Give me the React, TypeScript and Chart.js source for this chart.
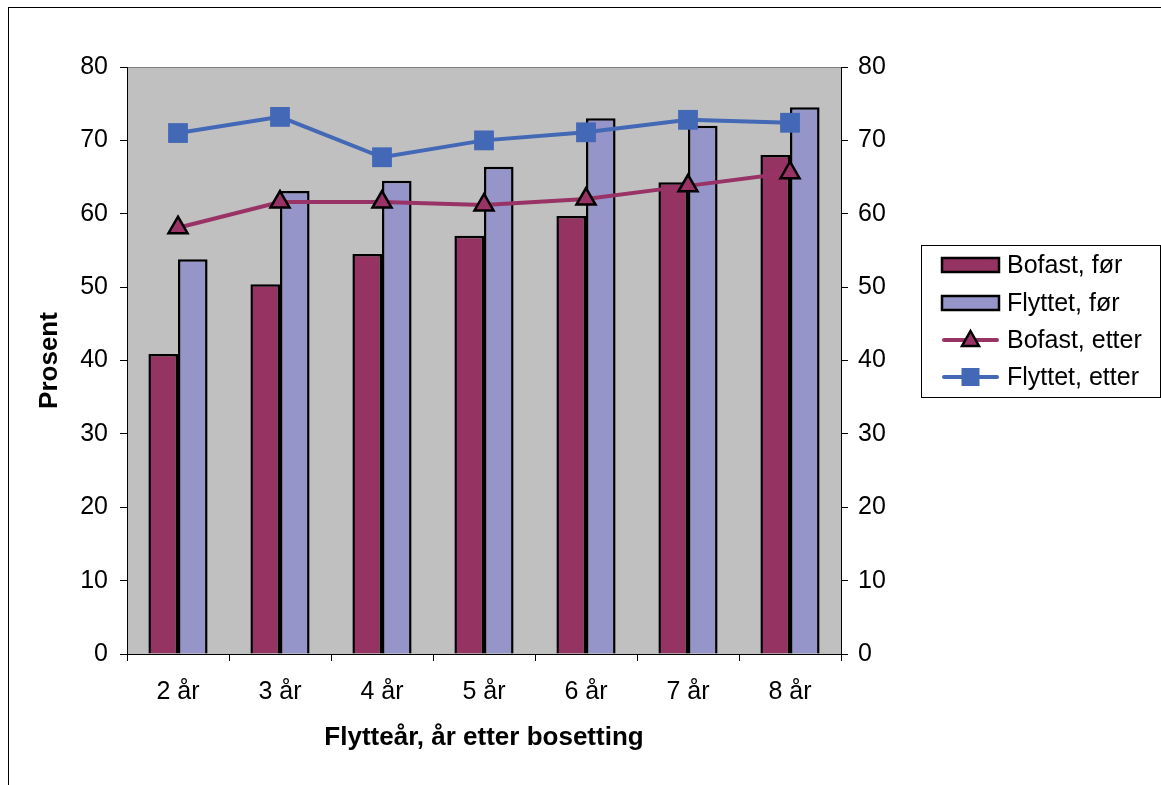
import React, { useEffect, useRef } from "react";
import { Chart, registerables } from "chart.js";

Chart.register(...registerables);

const categories = ["2 år", "3 år", "4 år", "5 år", "6 år", "7 år", "8 år"];
const bofastFor = [40.9, 50.4, 54.5, 57.0, 59.7, 64.3, 68.0];
const flyttetFor = [53.8, 63.1, 64.5, 66.4, 73.0, 72.0, 74.5];
const bofastEtter = [58.1, 61.6, 61.6, 61.2, 62.0, 63.8, 65.6];
const flyttetEtter = [71.0, 73.2, 67.7, 70.0, 71.1, 72.8, 72.4];
const seriesNames = ["Bofast, før", "Flyttet, før", "Bofast, etter", "Flyttet, etter"];
const xTitle = "Flytteår, år etter bosetting";
const yTitle = "Prosent";
const yMin = 0;
const yMax = 80;
const yStep = 10;

const W = 1161;
const H = 785;
const FONT = "'Liberation Sans', Arial, sans-serif";
const C_BOF = "#953462";
const C_FLY = "#9595C9";
const C_BOF_L = "#993366";
const C_FLY_L = "#4268B6";

const decorPlugin = {
  id: "decor",
  beforeDraw(chart: any) {
    const { ctx, chartArea: a } = chart;
    ctx.save();
    ctx.fillStyle = "#fff";
    ctx.fillRect(0, 0, W, H);
    ctx.strokeStyle = "#000";
    ctx.lineWidth = 1;
    ctx.strokeRect(8.5, 7.5, 3000, 3000);
    ctx.fillStyle = "#C0C0C0";
    ctx.fillRect(a.left, a.top, a.right - a.left, a.bottom - a.top);
    ctx.strokeStyle = "#808080";
    ctx.strokeRect(a.left + 0.5, a.top + 0.5, a.right - a.left, a.bottom - a.top);
    ctx.restore();
  },
  afterDraw(chart: any) {
    const { ctx, chartArea: a } = chart;
    ctx.save();
    ctx.fillStyle = "#000";
    ctx.font = `bold 26px ${FONT}`;
    ctx.textAlign = "center";
    ctx.textBaseline = "middle";
    ctx.fillText(xTitle, (a.left + a.right) / 2, 738);
    ctx.save();
    ctx.translate(50, (a.top + a.bottom) / 2);
    ctx.rotate(-Math.PI / 2);
    ctx.fillText(yTitle, 0, 0);
    ctx.restore();

    // legend
    const bx = 921, by = 245, bw = 239, bh = 152;
    ctx.fillStyle = "#fff";
    ctx.fillRect(bx, by, bw, bh);
    ctx.strokeStyle = "#000";
    ctx.lineWidth = 1;
    ctx.strokeRect(bx + 0.5, by + 0.5, bw, bh);
    const rows = [265, 303, 340, 377];
    const sx = 942, sw = 57;
    ctx.font = `25px ${FONT}`;
    ctx.textAlign = "left";
    ctx.textBaseline = "middle";
    rows.forEach((ry, i) => {
      if (i < 2) {
        ctx.fillStyle = i === 0 ? C_BOF : C_FLY;
        ctx.fillRect(sx, ry - 7, sw, 14);
        ctx.strokeStyle = "#000";
        ctx.lineWidth = 2.5;
        ctx.strokeRect(sx, ry - 7, sw, 14);
      } else {
        const col = i === 2 ? C_BOF_L : C_FLY_L;
        ctx.strokeStyle = col;
        ctx.lineWidth = 4;
        ctx.lineCap = "round";
        ctx.beginPath();
        ctx.moveTo(sx + 2, ry);
        ctx.lineTo(sx + sw - 2, ry);
        ctx.stroke();
        const cx = sx + sw / 2;
        if (i === 2) {
          ctx.beginPath();
          ctx.moveTo(cx, ry - 9);
          ctx.lineTo(cx + 8.5, ry + 6);
          ctx.lineTo(cx - 8.5, ry + 6);
          ctx.closePath();
          ctx.fillStyle = C_BOF_L;
          ctx.fill();
          ctx.strokeStyle = "#000";
          ctx.lineWidth = 2.5;
          ctx.lineJoin = "miter";
          ctx.stroke();
        } else {
          ctx.fillStyle = C_FLY_L;
          ctx.fillRect(cx - 9, ry - 9, 18, 18);
        }
      }
      ctx.fillStyle = "#000";
      ctx.fillText(seriesNames[i], 1007, ry + 1);
    });
    ctx.restore();
  },
};

export default function App() {
  const ref = useRef<HTMLCanvasElement | null>(null);
  useEffect(() => {
    if (!ref.current) return;
    const tickFont = { family: FONT, size: 25 };
    const chart = new Chart(ref.current, {
      type: "bar",
      data: {
        labels: categories,
        datasets: [
          {
            type: "line",
            label: seriesNames[2],
            data: bofastEtter,
            borderColor: C_BOF_L,
            borderWidth: 4,
            pointStyle: "triangle",
            pointRadius: 11,
            pointBackgroundColor: C_BOF_L,
            pointBorderColor: "#000",
            pointBorderWidth: 2.5,
            order: 0,
            yAxisID: "y",
          } as any,
          {
            type: "line",
            label: seriesNames[3],
            data: flyttetEtter,
            borderColor: C_FLY_L,
            borderWidth: 4,
            pointStyle: "rect",
            pointRadius: 14,
            pointBackgroundColor: C_FLY_L,
            pointBorderColor: C_FLY_L,
            pointBorderWidth: 0,
            order: 0,
            yAxisID: "y",
          } as any,
          {
            type: "bar",
            label: seriesNames[0],
            data: bofastFor,
            backgroundColor: C_BOF,
            borderColor: "#000",
            borderWidth: 2.5,
            categoryPercentage: 0.58,
            barPercentage: 1,
            order: 1,
            yAxisID: "y",
          },
          {
            type: "bar",
            label: seriesNames[1],
            data: flyttetFor,
            backgroundColor: C_FLY,
            borderColor: "#000",
            borderWidth: 2.5,
            categoryPercentage: 0.58,
            barPercentage: 1,
            order: 1,
            yAxisID: "y",
          },
        ],
      },
      options: {
        animation: false,
        responsive: false,
        devicePixelRatio: 1,
        layout: { padding: { top: 67, left: 0, right: 0, bottom: 0 } },
        plugins: { legend: { display: false }, tooltip: { enabled: false }, title: { display: false } },
        scales: {
          x: {
            grid: { offset: true, drawOnChartArea: false, tickLength: 7, color: "#000", lineWidth: 1 },
            border: { color: "#000", width: 1 },
            ticks: { font: tickFont, color: "#000", padding: 16, maxRotation: 0 },
            afterFit: (s: any) => { s.height = 131; },
          },
          y: {
            position: "left",
            min: yMin,
            max: yMax,
            ticks: { stepSize: yStep, font: tickFont, color: "#000", padding: 12 },
            grid: { drawOnChartArea: false, tickLength: 7, color: "#000" },
            border: { color: "#000", width: 1 },
            afterFit: (s: any) => { s.width = 127; },
          },
          y2: {
            position: "right",
            min: yMin,
            max: yMax,
            ticks: { stepSize: yStep, font: tickFont, color: "#000", padding: 10 },
            grid: { drawOnChartArea: false, tickLength: 7, color: "#000" },
            border: { color: "#000", width: 1 },
            afterFit: (s: any) => { s.width = 320; },
          },
        },
      },
      plugins: [decorPlugin],
    });
    return () => chart.destroy();
  }, []);
  return (
    <canvas
      ref={ref}
      width={W}
      height={H}
      style={{ position: "fixed", left: 0, top: 0, width: W, height: H, display: "block" }}
    />
  );
}
